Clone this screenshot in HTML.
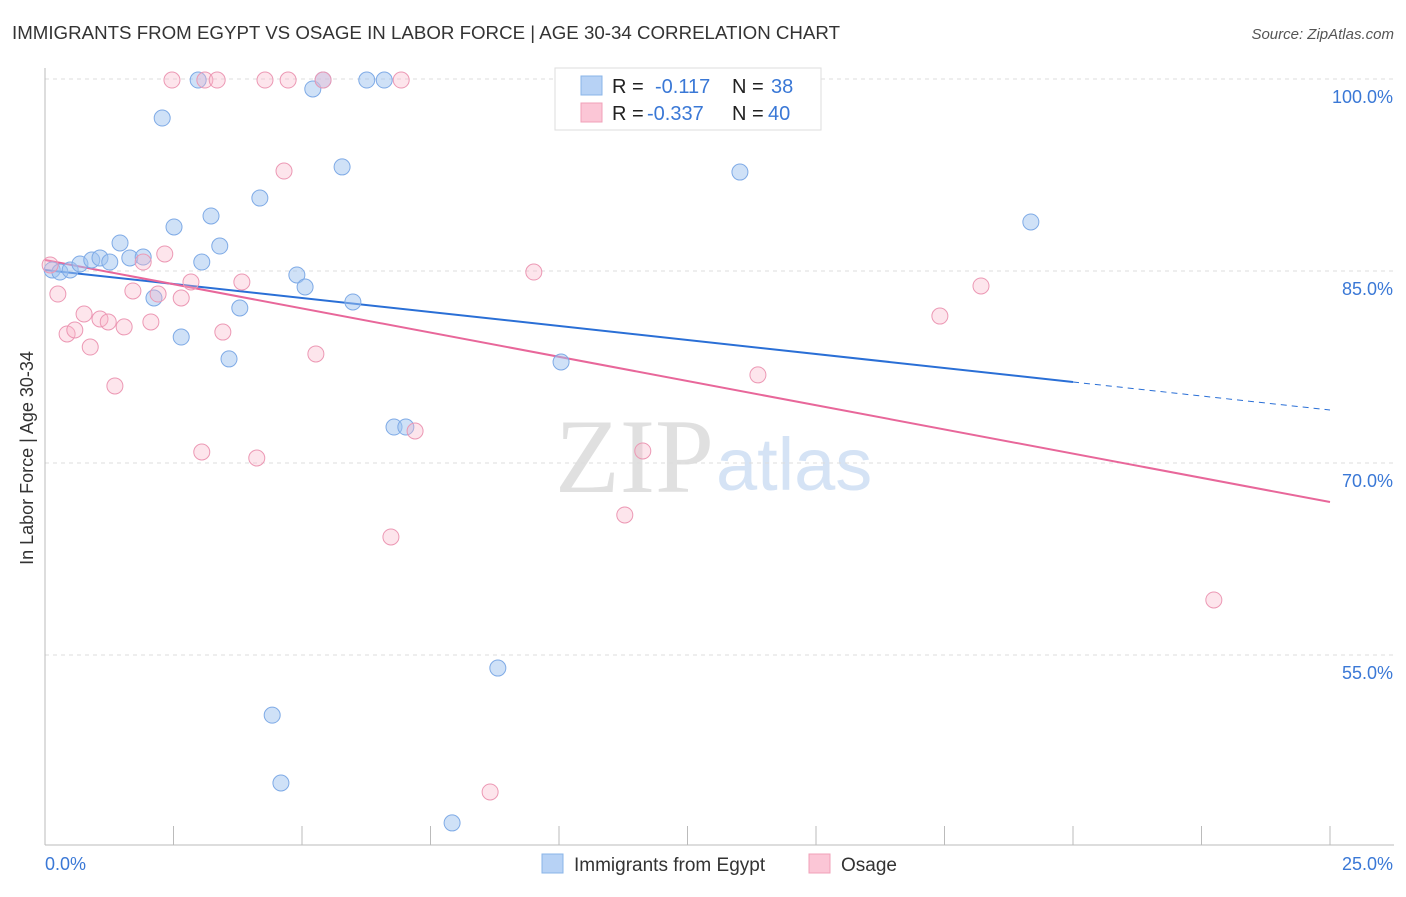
<!DOCTYPE html>
<html><head><meta charset="utf-8"><style>
body{margin:0;background:#fff;font-family:"Liberation Sans",sans-serif}
</style></head><body>
<svg id="chart" width="1406" height="892" viewBox="0 0 1406 892" xmlns="http://www.w3.org/2000/svg" font-family="Liberation Sans, sans-serif">
<text x="12" y="39" font-size="18" fill="#333" textLength="828" lengthAdjust="spacingAndGlyphs">IMMIGRANTS FROM EGYPT VS OSAGE IN LABOR FORCE | AGE 30-34 CORRELATION CHART</text>
<text x="1394" y="39" font-size="15" fill="#555" font-style="italic" text-anchor="end">Source: ZipAtlas.com</text>
<text x="33" y="458" font-size="18" fill="#333" text-anchor="middle" transform="rotate(-90 33 458)">In Labor Force | Age 30-34</text>
<text x="714" y="492" font-size="106" fill="#e0e0e0" text-anchor="end" font-family="Liberation Serif, serif">ZIP</text>
<text x="716" y="490" font-size="74" fill="#d5e3f5">atlas</text>
<g id="grid"></g><g id="axes"></g><g id="lines"></g><g id="pts"></g>
<g>
<rect x="555" y="68" width="266" height="62" fill="#fff" stroke="#ddd"/>
<rect x="581" y="76" width="21" height="19" fill="#b7d2f5" stroke="#8ab4e8"/>
<rect x="581" y="103" width="21" height="19" fill="#fbc6d6" stroke="#f0a0b8"/>
<text x="612" y="93" font-size="20" fill="#222">R =</text><text x="655" y="93" font-size="20" fill="#3a78d6">-0.117</text>
<text x="732" y="93" font-size="20" fill="#222">N =</text><text x="771" y="93" font-size="20" fill="#3a78d6">38</text>
<text x="612" y="120" font-size="20" fill="#222">R =</text><text x="647" y="120" font-size="20" fill="#3a78d6">-0.337</text>
<text x="732" y="120" font-size="20" fill="#222">N =</text><text x="768" y="120" font-size="20" fill="#3a78d6">40</text>
</g>
<g>
<rect x="542" y="854" width="21" height="19" fill="#b7d2f5" stroke="#8ab4e8"/>
<text x="574" y="871" font-size="19" fill="#333">Immigrants from Egypt</text>
<rect x="809" y="854" width="21" height="19" fill="#fbc6d6" stroke="#f0a0b8"/>
<text x="841" y="871" font-size="19" fill="#333">Osage</text>
</g>
</svg>
<script>
const blueX=[0.14,0.29,0.49,0.68,0.91,1.07,1.26,1.46,1.65,1.91,2.12,2.28,2.51,2.65,2.98,3.05,3.23,3.40,3.58,3.79,4.18,4.42,4.59,4.90,5.06,5.21,5.41,5.78,5.99,6.26,6.60,6.79,7.02,7.92,8.81,10.04,13.52,19.18];
const blueY=[85.08,84.92,85.08,85.55,85.86,86.02,85.70,87.19,86.02,86.09,82.89,96.95,88.44,79.84,99.92,85.70,89.30,86.95,78.13,82.11,90.70,50.3,45.0,84.69,83.75,99.22,99.92,93.13,82.58,99.92,99.92,72.81,72.81,41.88,53.98,77.89,92.73,88.83];
const pinkX=[0.10,0.25,0.43,0.58,0.76,0.88,1.07,1.23,1.36,1.54,1.71,1.91,2.06,2.20,2.33,2.47,2.65,2.84,3.05,3.11,3.35,3.46,3.83,4.12,4.28,4.65,4.73,5.27,5.41,6.73,6.93,7.20,8.66,9.51,11.28,11.63,13.87,17.41,18.21,22.74];
const pinkY=[85.47,83.20,80.08,80.39,81.64,79.06,81.25,81.02,76.02,80.63,83.44,85.70,81.02,83.20,86.33,99.92,82.89,84.14,70.86,99.92,99.92,80.23,84.14,70.39,99.92,92.81,99.92,78.52,99.92,64.22,99.92,72.50,44.30,84.92,65.94,70.94,76.88,81.48,83.83,59.30];
const blueTrend=[85.08,74.14];
const pinkTrend=[85.86,66.95];
const yTicks=[100,85,70,55];
const yTickLabels=["100.0%","85.0%","70.0%","55.0%"];
const xTicks=[0,2.5,5,7.5,10,12.5,15,17.5,20,22.5,25];
const NS='http://www.w3.org/2000/svg';
const sx=v=>45+v*51.4, sy=v=>79+(100-v)*12.8;
function mk(p,t,a){const e=document.createElementNS(NS,t);for(const k in a)e.setAttribute(k,a[k]);document.getElementById(p).appendChild(e);return e;}
yTicks.forEach((v,i)=>{
 const l=mk('grid','line',{x1:45,x2:1394,y1:sy(v),y2:sy(v),stroke:'#ddd','stroke-dasharray':'4,4'});
 
 
 const t=mk('grid','text',{x:1393,y:sy(v)+24,'font-size':18,fill:'#3a78d6','text-anchor':'end'});t.textContent=yTickLabels[i];
 
 
});
const ax=mk('axes','line',{x1:45,x2:45,y1:68,y2:845,stroke:'#bbb'});


const bx=mk('axes','line',{x1:45,x2:1394,y1:845,y2:845,stroke:'#bbb'});


xTicks.forEach(v=>{const t=mk('axes','line',{x1:sx(v),x2:sx(v),y1:826,y2:845,stroke:'#bbb'});
 
 });
const x0=mk('axes','text',{x:45,y:870,'font-size':18,fill:'#3a78d6'});x0.textContent='0.0%';


const x1=mk('axes','text',{x:1393,y:870,'font-size':18,fill:'#3a78d6','text-anchor':'end'});x1.textContent='25.0%';


function pts(X,Y,fill,stroke,name){X.forEach((x,i)=>{const c=mk('pts','circle',{cx:sx(x),cy:sy(Y[i]),r:8,fill:fill,stroke:stroke,'stroke-width':1});
 
 });}
pts(blueX,blueY,'rgba(160,196,240,0.5)','#7eaae6','point-egypt');
pts(pinkX,pinkY,'rgba(248,180,200,0.35)','#ec98b4','point-osage');
const tv=(t,x)=>t[0]+(t[1]-t[0])*x/25;
const b1=mk('lines','line',{x1:sx(0),y1:sy(tv(blueTrend,0)),x2:sx(20),y2:sy(tv(blueTrend,20)),stroke:'#2a6fd6','stroke-width':2});


const b2=mk('lines','line',{x1:sx(20),y1:sy(tv(blueTrend,20)),x2:sx(25),y2:sy(tv(blueTrend,25)),stroke:'#2a6fd6','stroke-width':1,'stroke-dasharray':'6,5'});


const p1=mk('lines','line',{x1:sx(0),y1:sy(tv(pinkTrend,0)),x2:sx(25),y2:sy(tv(pinkTrend,25)),stroke:'#e8679a','stroke-width':2});


</script>
</body></html>
